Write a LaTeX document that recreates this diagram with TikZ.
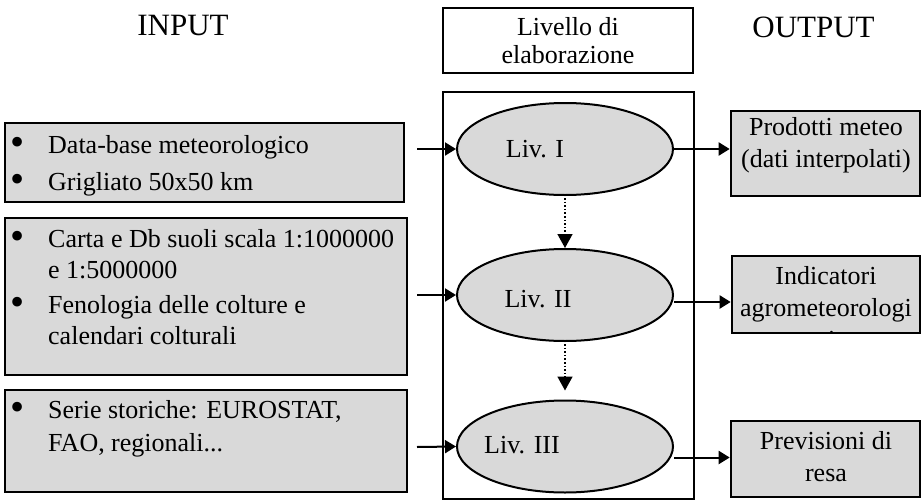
\documentclass[tikz,border=0pt]{standalone}
\usepackage{fontspec}
\setmainfont{Liberation Serif}
\usetikzlibrary{arrows.meta,shapes.geometric}

\definecolor{boxgray}{RGB}{217,217,217}
\newcommand{\bl}{\makebox[38pt][l]{\raisebox{-2.5pt}{\scalebox{1.55}{\textbullet}}}}

\tikzset{
  gbox/.style={draw, line width=2.6pt, fill=boxgray, inner sep=0pt},
  level/.style={ellipse, draw, line width=2pt, fill=boxgray, inner sep=0pt,
    minimum width=216pt, minimum height=92pt},
  txt/.style={font=\fontsize{26}{31}\selectfont, inner sep=0pt},
  outtxt/.style={font=\fontsize{26}{32}\selectfont, inner sep=0pt, align=center, anchor=base},
  head/.style={font=\fontsize{31}{36}\selectfont, inner sep=0pt},
  flow/.style={-{Triangle[length=11pt,width=13pt]}, line width=2pt},
  down/.style={-{Triangle[length=14pt,width=15pt]}, line width=1.6pt, dotted},
}

\begin{document}
\begin{tikzpicture}[x=1pt, y=-1pt]
    \useasboundingbox (0,0) rectangle (922,501);

    % headings
    \node[head] (inhead) at (183,25.5) {INPUT};
    \node[head] (outhead) at (813.5,27.5) {OUTPUT};
    \node[draw, line width=2pt, txt, font=\fontsize{26}{28}\selectfont, align=center,
          minimum width=250pt, minimum height=65pt] (livhead) at (568,40.5) {Livello di\\elaborazione};

    % central frame with the three levels
    \node[draw, line width=2pt, minimum width=251pt, minimum height=407pt] (core) at (568.5,295.5) {};
    \node[level] (lv1) at (565,149) {};
    \node[level] (lv2) at (565,295) {};
    \node[level] (lv3) at (565,446.5) {};
    \node[txt] (lv1txt) at (535,149.5) {Liv. I};
    \node[txt] (lv2txt) at (538,299) {Liv. II};
    \node[txt] (lv3txt) at (522,445.5) {Liv. III};

    % input boxes (base = last line)
    \node[gbox, minimum width=399pt, minimum height=79pt] (in1) at (204.5,162.5) {};
    \node[gbox, minimum width=402pt, minimum height=157pt] (in2) at (206,296.5) {};
    \node[gbox, minimum width=402pt, minimum height=102pt] (in3) at (206,441) {};
    \node[txt, align=left, anchor=base west] (in1txt) at (10,190)
        {\bl Data-base meteorologico\\[6pt]\bl Grigliato 50x50 km};
    \node[txt, align=left, anchor=base west] (in2txt) at (10,344)
        {\bl Carta e Db suoli scala 1:1000000\\\hspace*{38pt}e 1:5000000\\[4pt]%
         \bl Fenologia delle colture e\\\hspace*{38pt}calendari colturali};
    \node[txt, align=left, anchor=base west] (in3txt) at (10,451)
        {\bl Serie storiche: EUROSTAT,\\[2pt]\hspace*{38pt}FAO, regionali...};

    % output boxes
    \node[gbox, minimum width=189pt, minimum height=85pt] (out1) at (825.5,153.5) {};
    \node[gbox, minimum width=188pt, minimum height=77pt] (out2) at (826,294.5) {};
    \node[gbox, minimum width=189pt, minimum height=76pt] (out3) at (825.5,459) {};
    \node[outtxt] (out1txt) at (826,167) {Prodotti meteo\\(dati interpolati)};
    \begin{scope}
        \clip (out2.north west) rectangle ([yshift=2pt]out2.south east);
        \node[outtxt] (out2txt) at (826,348) {Indicatori\\agrometeorologi\\ci};
    \end{scope}
    \node[outtxt] (out3txt) at (826,481) {Previsioni di\\resa};

    % connectors
    \coordinate (s1) at (417,149);
    \coordinate (s2) at (417,295);
    \coordinate (s3) at (417,447);
    \draw[flow] (s1) -- (lv1.west);
    \draw[flow] (s2) -- (lv2.west);
    \draw[flow] (s3) -- (lv3.west);

    \coordinate (e2) at ([yshift=-7pt]lv2.east);
    \coordinate (e3) at ([yshift=-11pt]lv3.east);
    \draw[flow] (lv1.east) -- (lv1.east -| out1.west);
    \draw[flow] (e2) -- (e2 -| out2.west);
    \draw[flow] (e3) -- (e3 -| out3.west);

    \draw[down, shorten <=2pt] (lv1.south) -- (lv2.north);
    \draw[down, shorten <=2pt] (lv2.south) -- ([yshift=9pt]lv3.north);

\end{tikzpicture}
\end{document}
